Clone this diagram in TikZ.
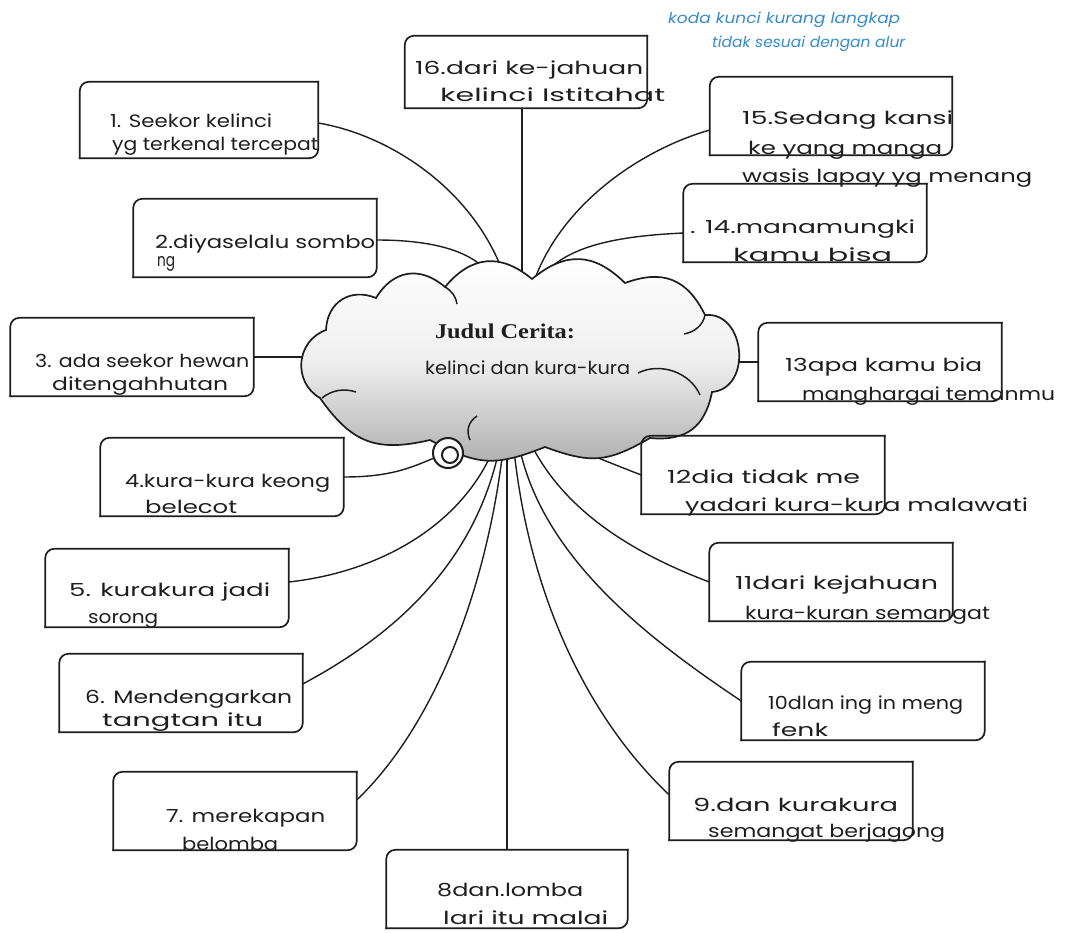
\documentclass[tikz,border=0pt]{standalone}
\usepackage{fontspec}
\usepackage{graphicx}
\setmainfont{Poppins}
\newfontfamily\titlefont{Liberation Serif}
\usetikzlibrary{calc}

\definecolor{ink}{RGB}{30,30,30}
\definecolor{penblue}{RGB}{55,140,205}

% stretch a line of handwriting to a given width (in pt), keeping its height
\newcommand\hw[2]{\resizebox{#1pt}{\height}{#2}}

\tikzset{
  frame/.style={minimum width=243pt, minimum height=78pt, inner sep=0pt},
  boxline/.style={line width=1.7pt, draw=ink, line cap=rect},
  link/.style={line width=1.4pt, draw=ink},
  hand/.style={anchor=base west, inner sep=0pt, text=ink, font=\fontsize{18}{20}\selectfont},
  note/.style={anchor=base west, inner sep=0pt, text=penblue, font=\itshape\fontsize{15}{16}\selectfont},
  puff/.style={bend left=#1, looseness=1.2},
}

% a box with rounded top-left and bottom-right corners
\newcommand\drawframe[1]{%
  \draw[boxline, rounded corners=9pt] (#1.south west) -- (#1.north west) -- (#1.north east);
  \draw[boxline, rounded corners=9pt] (#1.north east) -- (#1.south east) -- (#1.south west);
}

\begin{document}
\begin{tikzpicture}[x=1pt, y=-1pt]
\useasboundingbox (0,0) rectangle (1065,932);
\fill[white] (0,0) rectangle (1065,932);

% ---------- boxes ----------
\node[frame, minimum width=238pt, minimum height=76pt] (b1) at (199,120) {};
\node[frame] (b2) at (255,238) {};
\node[frame] (b3) at (132,357) {};
\node[frame] (b4) at (222,477) {};
\node[frame] (b5) at (167,588) {};
\node[frame] (b6) at (181,693) {};
\node[frame] (b7) at (235,811) {};
\node[frame, minimum width=241pt] (b8) at (507,889) {};
\node[frame] (b9) at (791,801) {};
\node[frame] (b10) at (863,701) {};
\node[frame] (b11) at (831,582) {};
\node[frame] (b12) at (763,475) {};
\node[frame] (b13) at (880,362) {};
\node[frame] (b14) at (805,223) {};
\node[frame, minimum width=242pt] (b15) at (831,116) {};
\node[frame, minimum width=242pt, minimum height=72pt] (b16) at (526,72) {};

% ---------- meeting points on the cloud ----------
\coordinate (c1) at (505,278);
\coordinate (c2) at (492,278);
\coordinate (c16) at (522,282);
\coordinate (c15) at (533,284);
\coordinate (c14) at (537,284);
\coordinate (c3) at (318,357);
\coordinate (c13) at (725,362);
\coordinate (c5) at (494,448);
\coordinate (c6) at (499,450);
\coordinate (c7) at (503,450);
\coordinate (c8) at (507,450);
\coordinate (c9) at (514,450);
\coordinate (c10) at (520,450);
\coordinate (c11) at (532,446);
\coordinate (c12) at (556,443);

% ---------- connectors ----------
\draw[link] ($(b1.east)+(0,3)$) .. controls (390,135) and (475,190) .. (c1);
\draw[link] ($(b2.east)+(0,2)$) .. controls (430,240) and (475,250) .. (c2);
\draw[link] ($(b16.south)+(-4,0)$) -- (c16);
\draw[link] ($(b15.west)+(0,14)$) .. controls (640,150) and (560,205) .. (c15);
\draw[link] ($(b14.west)+(0,10)$) .. controls (620,236) and (560,245) .. (c14);
\draw[link] (b3.east) -- (c3);
\draw[link] (c13) -- (b13.west);
\draw[link] ($(b5.east)+(0,-6)$) .. controls (380,572) and (462,525) .. (c5);
\draw[link] ($(b6.east)+(0,-9)$) .. controls (400,632) and (475,560) .. (c6);
\draw[link] ($(b7.east)+(0,-11)$) .. controls (430,730) and (485,600) .. (c7);
\draw[link] (c8) -- (b8.north);
\draw[link] ($(b9.west)+(0,-6)$) .. controls (590,720) and (530,600) .. (c9);
\draw[link] (b10.west) .. controls (650,640) and (545,560) .. (c10);
\draw[link] (b11.west) .. controls (630,552) and (565,510) .. (c11);
\draw[link] (b12.west) .. controls (610,463) and (585,452) .. (c12);

% ---------- cloud ----------
\path[draw=ink, line width=1.7pt, top color=white, bottom color=black!32, middle color=black!6]
  (320,398) to[puff=65] (326,330) to[puff=55] (376,298) to[puff=50] (445,287)
  to[puff=45] (532,279) to[puff=42] (625,283) to[puff=42] (705,315)
  to[bend left=90, looseness=1.35] (712,392) to[puff=42] (650,438)
  to[puff=25] (545,447) to[puff=25] (430,440) to[puff=34] (320,398) -- cycle;
% inner strokes of the cloud
\draw[link, line width=1.5pt] (638,373) .. controls (660,362) and (690,372) .. (700,395);
\draw[link, line width=1.5pt] (322,398) .. controls (332,390) and (344,388) .. (356,392);
\draw[link, line width=1.5pt] (445,287) .. controls (452,291) and (456,297) .. (457,304);
\draw[link, line width=1.5pt] (705,315) .. controls (703,325) and (695,332) .. (684,334);
\draw[link, line width=1.5pt] (470,440) .. controls (466,431) and (468,422) .. (477,416);

% the little spiral on the cloud
\node[circle, draw=ink, fill=white, line width=2pt, minimum size=30pt, inner sep=0pt] (spiral) at (448,453) {};
\node[circle, draw=ink, line width=2pt, minimum size=16pt, inner sep=0pt] (spiralcore) at (450,455) {};
\draw[link] (b4.east) .. controls (390,477) and (410,468) .. (spiral.200);

% ---------- box outlines ----------
\foreach \b in {b1,b2,b3,b4,b5,b6,b7,b8,b9,b10,b11,b12,b13,b14,b15,b16}{\drawframe{\b}}

% ---------- centre text ----------
\node[anchor=base, inner sep=0pt, text=ink, font=\titlefont\bfseries\fontsize{21}{22}\selectfont] (title) at (505,338) {\hw{140}{Judul Cerita:}};
\node[hand] (story) at (425,374) {\hw{205}{kelinci dan kura-kura}};

% ---------- handwritten entries ----------
\node[hand] (t1a) at (110,127) {\hw{162}{1. Seekor kelinci}};
\node[hand] (t1b) at (112,150) {\hw{206}{yg terkenal tercepat}};
\node[hand] (t2a) at (155,248) {\hw{220}{2.diyaselalu sombo}};
\node[hand] (t2b) at (157,266) {\hw{18}{ng}};
\node[hand] (t3a) at (35,367) {\hw{214}{3. ada seekor hewan}};
\node[hand] (t3b) at (52,390) {\hw{176}{ditengahhutan}};
\node[hand] (t4a) at (125,487) {\hw{205}{4.kura-kura keong}};
\node[hand] (t4b) at (145,513) {\hw{92}{belecot}};
\node[hand] (t5a) at (69,596) {\hw{201}{5. kurakura jadi}};
\node[hand] (t5b) at (88,623) {\hw{70}{sorong}};
\node[hand] (t6a) at (85,703) {\hw{207}{6. Mendengarkan}};
\node[hand] (t6b) at (102,726) {\hw{161}{tangtan itu}};
\node[hand] (t7a) at (166,822) {\hw{159}{7. merekapan}};
\node[hand] (t7b) at (182,850) {\hw{96}{belomba}};
\node[hand] (t8a) at (437,896) {\hw{146}{8dan.lomba}};
\node[hand] (t8b) at (443,924) {\hw{165}{lari itu malai}};
\node[hand] (t9a) at (693,811) {\hw{205}{9.dan kurakura}};
\node[hand] (t9b) at (708,837) {\hw{237}{semangat berjagong}};
\node[hand] (t10a) at (768,709) {\hw{195}{10dlan ing in meng}};
\node[hand] (t10b) at (772,736) {\hw{56}{fenk}};
\node[hand] (t11a) at (735,589) {\hw{203}{11dari kejahuan}};
\node[hand] (t11b) at (745,619) {\hw{245}{kura-kuran semangat}};
\node[hand] (t12a) at (667,483) {\hw{193}{12dia tidak me}};
\node[hand] (t12b) at (685,511) {\hw{343}{yadari kura-kura malawati}};
\node[hand] (t13a) at (785,371) {\hw{197}{13apa kamu bia}};
\node[hand] (t13b) at (802,400) {\hw{253}{manghargai temanmu}};
\node[hand] (t14a) at (690,233) {\hw{225}{. 14.manamungki}};
\node[hand] (t14b) at (733,261) {\hw{159}{kamu bisa}};
\node[hand] (t15a) at (742,124) {\hw{211}{15.Sedang kansi}};
\node[hand] (t15b) at (748,154) {\hw{194}{ke yang manga}};
\node[hand] (t15c) at (742,182) {\hw{290}{wasis lapay yg menang}};
\node[hand] (t16a) at (415,74) {\hw{228}{16.dari ke-jahuan}};
\node[hand] (t16b) at (440,101) {\hw{225}{kelinci Istitahat}};

% ---------- teacher's note ----------
\node[note] (n1) at (668,23) {\hw{232}{koda kunci kurang langkap}};
\node[note] (n2) at (712,47) {\hw{193}{tidak sesuai dengan alur}};
\end{tikzpicture}
\end{document}
